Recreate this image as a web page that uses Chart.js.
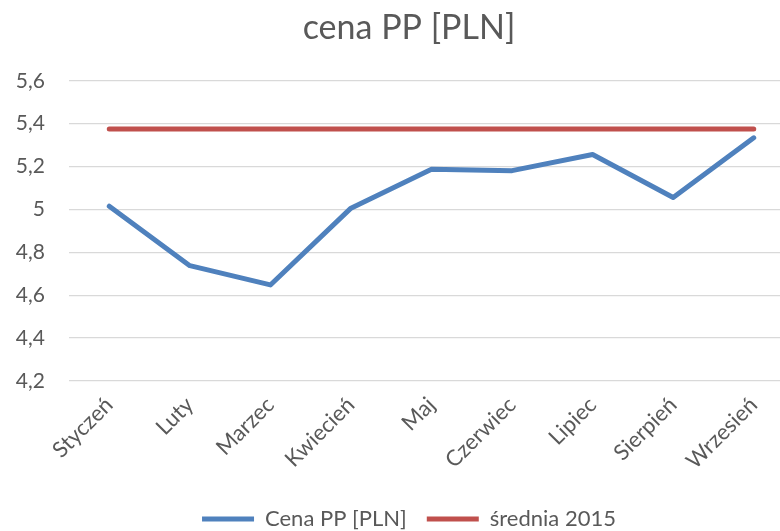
<!DOCTYPE html>
<html>
<head>
<meta charset="utf-8">
<script src="https://cdn.jsdelivr.net/npm/chart.js@4"></script>
<style>
  html, body { margin: 0; padding: 0; overflow: hidden; background: #ffffff; }
  #wrap { width: 820px; height: 531px; }
</style>
</head>
<body>
<div id="wrap"><canvas id="c" width="820" height="531"></canvas></div>
<script>
const months = ['Styczeń', 'Luty', 'Marzec', 'Kwiecień', 'Maj', 'Czerwiec', 'Lipiec', 'Sierpień', 'Wrzesień'];
const cenaPP = [5.015, 4.738, 4.648, 5.006, 5.187, 5.181, 5.256, 5.056, 5.334];
const srednia2015 = [5.375, 5.375, 5.375, 5.375, 5.375, 5.375, 5.375, 5.375, 5.375];
const yTicks = [4.2, 4.4, 4.6, 4.8, 5.0, 5.2, 5.4, 5.6];

const textColor = '#595959';
const fontFamily = 'Lato, "Open Sans", sans-serif';

new Chart(document.getElementById('c'), {
  type: 'line',
  data: {
    labels: months,
    datasets: [
      {
        label: 'Cena PP [PLN]',
        data: cenaPP,
        borderColor: '#4F81BD',
        backgroundColor: '#4F81BD',
        borderWidth: 5,
        pointRadius: 0,
        borderCapStyle: 'round',
        borderJoinStyle: 'round',
        tension: 0
      },
      {
        label: 'średnia 2015',
        data: srednia2015,
        borderColor: '#C0504D',
        backgroundColor: '#C0504D',
        borderWidth: 5,
        pointRadius: 0,
        borderCapStyle: 'round',
        borderJoinStyle: 'round',
        tension: 0
      }
    ]
  },
  options: {
    responsive: false,
    animation: false,
    layout: { padding: { left: 24, right: 26, top: 0, bottom: -9 } },
    plugins: {
      title: {
        display: true,
        text: 'cena PP [PLN]',
        color: textColor,
        font: { family: fontFamily, size: 34, weight: 'normal' },
        padding: { top: 8, bottom: 32 }
      },
      legend: {
        position: 'bottom',
        labels: {
          color: textColor,
          font: { family: fontFamily, size: 22 },
          boxWidth: 52,
          boxHeight: 5,
          padding: 20,
          generateLabels: (chart) => chart.data.datasets.map((ds, i) => ({
            text: ds.label,
            fillStyle: ds.borderColor,
            strokeStyle: ds.borderColor,
            lineWidth: 0,
            fontColor: textColor,
            hidden: false,
            datasetIndex: i
          }))
        }
      },
      tooltip: { enabled: false }
    },
    scales: {
      x: {
        offset: true,
        grid: { display: false, drawTicks: false },
        border: { display: false },
        ticks: {
          color: textColor,
          font: { family: fontFamily, size: 22 },
          maxRotation: 45,
          minRotation: 45,
          autoSkip: false,
          padding: 11
        },
        afterFit: (s) => { s.height = 107; }
      },
      y: {
        min: 4.2,
        max: 5.6,
        afterBuildTicks: (s) => { s.ticks = yTicks.map(v => ({ value: v })); },
        grid: { color: '#d9d9d9', lineWidth: 1.3, drawTicks: false },
        border: { display: false },
        ticks: {
          color: textColor,
          font: { family: fontFamily, size: 21 },
          padding: 24,
          callback: (v) => (Math.round(v * 10) / 10).toString().replace('.', ',')
        },
        afterFit: (s) => {
          s.width = 45;
          // let the tick labels extend into the left padding without being clipped
          s._computeLabelArea = () => undefined;
        }
      }
    }
  }
});
</script>
</body>
</html>
